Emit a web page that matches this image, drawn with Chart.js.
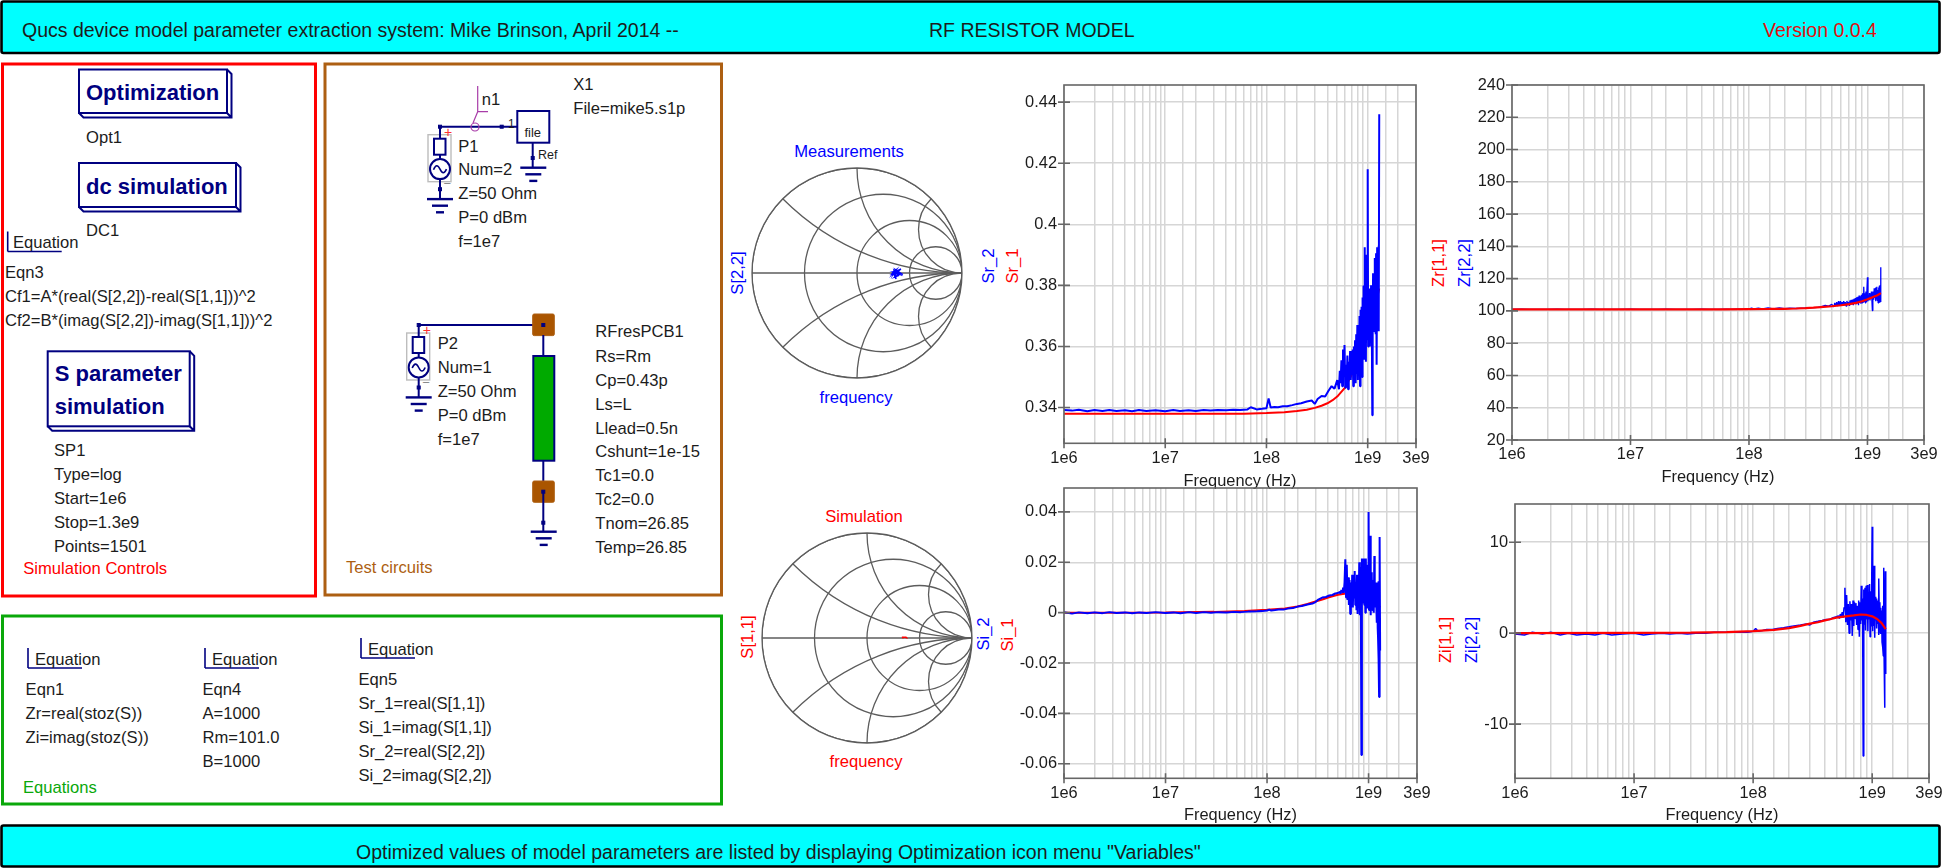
<!DOCTYPE html>
<html>
<head>
<meta charset="utf-8">
<title>RF resistor model</title>
<script src="https://cdn.jsdelivr.net/npm/chart.js@4"></script>
<style>
  html, body { margin: 0; padding: 0; width: 1942px; height: 868px; overflow: hidden; background: #fff; }
  svg { position: absolute; left: 0; top: 0; }
  canvas { position: absolute; }
  text { font-family: "Liberation Sans", Arial, sans-serif; font-size: 16.6px; dominant-baseline: central; fill: #1c1c1c; }
</style>
</head>
<body>
<svg id="sheet" width="1942" height="868"></svg>
<script>
// Measured sweep, frequency in MHz
const freqMHz = [
  1,1.2,1.4,1.7,2,2.4,2.8,3.3,4,4.7,5.5,6.5,8,10,12,14,17,20,24,28,33,40,47,55,65,70,80,90,100,105,
  110,120,130,145,160,180,200,220,250,280,300,320,350,380,410,440,470,500,
  520,530,540,550,560,570,580,590,600,610,
  620,630,640,650,660,670,680,690,700,710,
  720,730,740,750,760,770,780,790,800,810,
  820,830,840,850,860,870,880,890,900,910,
  920,930,940,950,960,970,980,990,1000,1010,
  1020,1030,1040,1050,1060,1070,1080,1090,1100,1110,
  1120,1130,1140,1150,1160,1170,1180,1190,1200,1210,
  1220,1230,1240,1250,1260,1270,1280,1290,1300
];

// Simulated sweep, frequency in MHz
const freqSimMHz = [1,10,30,60,100,150,200,250,300,350,400,450,500,600,700,800,900,1000,1100,1200,1300];

// Measurements
const sr2 = [
  .3392,.3390,.3393,.3388,.3392,.3389,.3392,.3389,.3391,.3388,.3392,.3389,.3391,.3388,.3392,.3389,.3391,.3389,.3392,.3390,.3392,.3391,.3393,.3392,.3394,.3401,.3394,.3396,.3398,.3430,
  .3400,.3402,.3401,.3404,.3404,.3408,.3412,.3414,.3420,.3423,.3412,.3428,.3438,.3436,.3455,.3470,.3462,.3490,
  .3460,.3520,.3480,.3555,.3470,.3590,.3500,.3605,.3465,.3540,
  .3480,.3570,.3460,.3550,.3500,.3585,.3490,.3560,.3510,.3590,
  .3470,.3600,.3500,.3620,.3480,.3640,.3510,.3670,.3490,.3660,
  .3520,.3700,.3470,.3720,.3540,.3730,.3500,.3760,.3580,.3800,
  .3560,.3925,.3600,.3800,.3550,.3900,.3620,.3780,.4180,.3600,
  .3720,.3650,.3790,.3600,.3750,.3680,.3800,.3630,.3740,.3375,
  .3660,.3840,.3680,.3810,.3650,.3890,.3700,.3850,.3640,.3905,
  .3680,.3540,.3925,.3660,.3900,.3700,.3930,.3650,.4360
];
const si2 = [
  .0002,-.0004,.0001,-.0002,.0001,-.0002,.0002,-.0001,.0001,-.0002,.0001,-.0001,.0002,-.0001,.0001,-.0002,.0002,-.0001,.0002,0,.0002,.0001,.0003,.0002,.0004,.0004,.0005,.0006,.0008,.0012,
  .0008,.0010,.0012,.0012,.0016,.0018,.0024,.0026,.0032,.0036,.0042,.0052,.0060,.0062,.0068,.0070,.0076,.0078,
  .0082,.0075,.0090,.0082,.0100,.0078,.0120,.0212,.0060,.0190,
  .0050,.0140,.0030,.0130,-.0005,.0120,.0040,.0150,.0020,.0135,
  .0060,.0165,.0030,.0120,.0010,.0150,-.0005,.0130,.0050,.0200,
  -.0010,.0180,.0010,-.0565,.0215,.0040,.0200,.0060,.0215,.0030,
  .0195,.0000,.0215,.0050,.0190,.0020,.0175,.0060,.0400,.0010,
  .0180,.0040,.0305,-.0010,.0160,.0060,.0145,.0010,.0130,.0030,
  .0110,.0000,.0225,.0050,.0120,.0020,.0095,.0040,.0060,-.0040,
  .0120,-.0060,-.0100,.0125,-.0180,-.0335,-.0250,.0300,-.0150
];
const zr2 = [
  101,101.1,101,100.9,101,101.1,101,100.9,101,101.1,101,100.9,101,101.1,101,100.9,101,101.1,101,100.9,101,101.1,101,101,101.1,101,101.1,101,101.1,101.8,
  101.2,101.7,101.3,101.8,101.3,101.8,101.4,101.7,101.5,101.7,101.8,102.0,102.0,102.2,102.6,103.5,103.0,104.0,
  102.5,105.0,103.0,105.5,103.0,106.0,103.2,106.0,103.5,105.5,
  103.2,106.0,103.5,105.5,103.0,106.2,103.8,105.5,103.5,106.5,
  103.8,106.8,104.0,107.0,103.5,107.5,104.5,108.0,104.0,108.5,
  105.0,108.8,103.5,109.5,105.5,109.0,104.5,110.0,105.0,111.0,
  105.5,115.0,106.0,111.0,105.0,112.0,106.0,113.0,120.8,106.0,
  109.5,107.0,111.0,106.5,110.5,108.0,112.0,107.0,100.2,108.0,
  112.0,107.0,114.0,108.0,113.5,106.0,114.5,107.5,115.0,106.5,
  113.0,105.0,114.5,106.0,115.5,105.0,116.0,105.5,127.0
];
const zi2 = [
  -0.1,-0.2,0.1,-0.1,0.1,-0.2,0.0,-0.2,-0.1,-0.2,0.0,-0.2,-0.1,0.0,-0.2,-0.1,0.0,-0.1,0.0,-0.1,0.0,0.0,0.1,0.1,0.1,0.1,0.1,0.1,0.2,0.5,
  0.2,0.3,0.4,0.4,0.5,0.6,0.7,0.8,0.9,1.0,0.9,1.2,1.3,1.4,1.5,1.5,1.7,1.8,
  1.9,1.6,2.1,1.8,2.3,1.7,2.8,5.0,1.2,4.2,
  0.9,3.2,0.0,3.5,1.4,3.2,-0.3,3.6,0.8,3.4,
  1.6,3.3,0.9,3.0,0.4,3.6,-0.4,3.4,1.0,5.2,
  1.4,3.8,-13.5,4.8,1.0,5.0,0.3,5.2,1.5,5.3,
  0.2,4.5,1.5,5.4,-0.4,4.6,0.8,5.3,11.7,0.2,
  4.2,0.8,7.4,-0.5,4.0,1.4,3.8,0.5,3.5,1.0,
  3.6,-0.2,6.0,0.8,3.4,0.0,2.8,1.0,2.5,-1.0,
  3.0,-1.5,-2.5,7.2,-3.0,-8.2,-4.5,6.8,-4.5
];

// Simulation
const sr1 = [.3380,.3380,.3380,.3380,.3382,.3385,.3389,.3393,.3399,.3406,.3414,.3424,.3436,.3466,.3510,.3560,.3610,.3650,.3690,.3740,.3790];
const si1 = [.0000,.0001,.0003,.0006,.0011,.0016,.0024,.0034,.0044,.0052,.0060,.0066,.0071,.0076,.0077,.0076,.0073,.0067,.0058,.0044,.0020];
const zr1 = [101,101,101,101,101.1,101.2,101.3,101.5,101.7,102,102.3,102.6,102.9,103.5,104.2,105,106,107.2,108.4,109.6,111];
const zi1 = [0,0.02,0.05,0.12,0.22,0.35,0.55,0.8,1.05,1.2,1.4,1.55,1.7,1.85,1.95,2.05,2.0,1.85,1.55,1.1,0.45];

// Axis ticks
const xTickValues = [1e6, 1e7, 1e8, 1e9, 3e9];
const xTickLabels = ['1e6', '1e7', '1e8', '1e9', '3e9'];
const srTicks = [.34, .36, .38, .4, .42, .44];
const srLabels = ['0.34', '0.36', '0.38', '0.4', '0.42', '0.44'];
const zrTicks = [20, 40, 60, 80, 100, 120, 140, 160, 180, 200, 220, 240];
const zrLabels = zrTicks.map(String);
const siTicks = [-.06, -.04, -.02, 0, .02, .04];
const siLabels = ['-0.06', '-0.04', '-0.02', '0', '0.02', '0.04'];
const ziTicks = [-10, 0, 10];
const ziLabels = ['-10', '0', '10'];

// Smith grid: constant resistance circles and constant reactance arcs
const smithR = [0, 1 / 3, 1, 3];
const smithX = [0.4142, 1, 2.4142];

const FONT = '"Liberation Sans", Arial, sans-serif';
const TEXT = '#1c1c1c', BLUE = '#0000ff', RED = '#ff0000';
const NAVY = '#000080', BROWN = '#ad5f12', GREEN = '#0aa80a', PURPLE = '#a83ca8';

function toXY(freqs, values) {
    return freqs.map((f, i) => ({ x: f * 1e6, y: values[i] }));
}

// ---- sheet: panels, schematic symbols and text ----
let svg = '';

function line(x1, y1, x2, y2, color, w) {
    svg += `<line x1="${x1}" y1="${y1}" x2="${x2}" y2="${y2}" stroke="${color || NAVY}" stroke-width="${w || 2}"/>`;
}
function box(x, y, w, h, stroke, sw, fill, rx) {
    svg += `<rect x="${x}" y="${y}" width="${w}" height="${h}" fill="${fill || 'none'}" stroke="${stroke}" stroke-width="${sw}" rx="${rx || 0}"/>`;
}
function label(str, x, y, color, extra, size) {
    const safe = str.replace(/&/g, '&amp;').replace(/</g, '&lt;');
    const style = (color ? `fill:${color};` : '') + (size ? `font-size:${size}px;` : '');
    svg += `<text x="${x}" y="${y}" style="${style}" ${extra || ''}>${safe}</text>`;
}
function rotated(str, x, y, color) {
    label(str, x, y, color, `text-anchor="middle" transform="rotate(-90 ${x} ${y})"`);
}
function centered(str, x, y, color) {
    label(str, x, y, color, 'text-anchor="middle"');
}
function node(x, y) {
    box(x - 1.5, y - 1.5, 3, 3, NAVY, 1, NAVY);
}
function ground(x, y) {
    line(x - 13, y, x + 13, y, NAVY, 2.4);
    line(x - 8, y + 6.6, x + 8, y + 6.6, NAVY, 2.4);
    line(x - 4, y + 13.2, x + 4, y + 13.2, NAVY, 2.4);
}
function bigBox(x, y, w, h, lines) {
    const d = 4.5;
    box(x, y, w, h, NAVY, 2, '#fff');
    svg += `<path d="M${x} ${y + h} L${x + d} ${y + h + d} H${x + w + d} V${y + d} L${x + w} ${y} M${x + w} ${y + h} L${x + w + d} ${y + h + d}" fill="none" stroke="${NAVY}" stroke-width="2"/>`;
    lines.forEach(l => label(l[0], x + 7, l[1], NAVY, 'font-weight="bold"', 22));
}
function equationMark(x, y, w, h, tx) {
    line(x, y, x, y + h, NAVY, 1.6);
    line(x, y + h, x + w, y + h, NAVY, 1.6);
    label('Equation', tx, y + h * 0.55);
}
function powerPort(x, topY) {
    // power source with its series resistor and grey surround
    box(x - 12, topY + 8, 23, 47, '#bdbdbd', 1.4);
    line(x, topY, x, topY + 12);
    box(x - 6, topY + 12, 11.5, 16, NAVY, 2, '#fff');
    line(x, topY + 28, x, topY + 32);
    svg += `<circle cx="${x}" cy="${topY + 42.4}" r="10" fill="#fff" stroke="${NAVY}" stroke-width="2"/>`;
    svg += `<path d="M${x - 6.5} ${topY + 43} q3.2 -7.5 6.5 -0.5 t6.5 0" fill="none" stroke="${NAVY}" stroke-width="1.6"/>`;
    line(x, topY + 52.4, x, topY + 72);
    node(x, topY + 62.5);
    ground(x, topY + 72.4);
    label('+', x + 4, topY + 5, '#ff3030', '', 14);
    label('−', x + 3.5, topY + 57, '#8a8a8a', '', 13);
}

// banners
box(1.5, 1.5, 1938, 51.5, '#000', 2.6, '#00ffff', 2);
box(1.5, 825.5, 1938, 41, '#000', 2.6, '#00ffff', 2);
label('Qucs device model parameter extraction system: Mike Brinson, April 2014 --', 22, 30, null, '', 19.5);
label('RF RESISTOR MODEL', 929, 30, null, '', 19.5);
label('Version 0.0.4', 1763, 30, '#e01010', '', 19.5);
label('Optimized values of model parameters are listed by displaying Optimization icon menu "Variables"', 356, 852, null, '', 19.5);

// panels
box(2.5, 64, 313, 532, RED, 3);
box(325, 64, 396.5, 531, BROWN, 3);
box(2.5, 616, 719, 188, GREEN, 3);

// simulation controls
bigBox(79, 69.5, 148, 43.5, [['Optimization', 92]]);
label('Opt1', 86, 137);
bigBox(79, 163, 157, 44, [['dc simulation', 186]]);
label('DC1', 86, 230.8);
equationMark(7.7, 231.5, 54, 20, 13);
label('Eqn3', 5, 272.3);
label('Cf1=A*(real(S[2,2])-real(S[1,1]))^2', 5, 296.5);
label('Cf2=B*(imag(S[2,2])-imag(S[1,1]))^2', 5, 320.4);
bigBox(47.7, 351.3, 142, 75, [['S parameter', 373.7], ['simulation', 406]]);
label('SP1', 54, 450.3);
label('Type=log', 54, 474.9);
label('Start=1e6', 54, 498.4);
label('Stop=1.3e9', 54, 522.6);
label('Points=1501', 54, 546.5);
label('Simulation Controls', 23.3, 568.3, RED);

// test circuits, measured branch
line(440, 126.7, 517, 126.7);
node(440, 126.7);
node(501.7, 126.7);
powerPort(440, 126.7);
box(517.3, 111, 32, 31.7, NAVY, 2, '#fff');
label('file', 532.7, 132.7, null, 'text-anchor="middle"', 13);
label('1', 508, 124, null, '', 12);
label('Ref', 538, 155, null, '', 12.5);
line(532.7, 142.7, 532.7, 167.7);
node(532.7, 158);
ground(533.3, 167.7);
// node label n1 hooks onto the wire
svg += `<path d="M477.7 86 V111.7 H488 M477.7 111.7 L473 123" fill="none" stroke="${PURPLE}" stroke-width="1.2"/>`;
svg += `<circle cx="475" cy="127" r="4" fill="none" stroke="${PURPLE}" stroke-width="1.2"/>`;
label('n1', 481.7, 99);
label('X1', 573.3, 84);
label('File=mike5.s1p', 573.3, 108);
['P1', 'Num=2', 'Z=50 Ohm', 'P=0 dBm', 'f=1e7'].forEach((t, i) => label(t, 458.3, [146, 169, 193.3, 217, 241.7][i]));

// test circuits, simulated branch
line(418.7, 325, 543.3, 325);
box(532.7, 314, 21.6, 21.6, BROWN, 1, '#aa5500', 1.5);
node(418.7, 325);
node(543.3, 325);
powerPort(418.7, 325);
line(543.3, 335, 543.3, 356);
box(533.3, 356, 21, 104.7, NAVY, 2, '#00aa00');
line(543.3, 460.7, 543.3, 481);
box(532.7, 481, 21.6, 21.3, BROWN, 1, '#aa5500', 1.5);
line(543.3, 491.7, 543.3, 531.7);
node(543.3, 491.7);
node(543.3, 522.7);
ground(543.7, 531.7);
['P2', 'Num=1', 'Z=50 Ohm', 'P=0 dBm', 'f=1e7'].forEach((t, i) => label(t, 437.7, [343.3, 367.3, 391.3, 415.3, 439.3][i]));
['RFresPCB1', 'Rs=Rm', 'Cp=0.43p', 'Ls=L', 'Llead=0.5n', 'Cshunt=1e-15', 'Tc1=0.0', 'Tc2=0.0', 'Tnom=26.85', 'Temp=26.85']
    .forEach((t, i) => label(t, 595.3, [331.7, 356, 380, 404, 428, 451.7, 475.7, 499.3, 523.3, 547.3][i]));
label('Test circuits', 346, 567.7, BROWN);

// equations
equationMark(28, 648, 54, 20, 35);
['Eqn1', 'Zr=real(stoz(S))', 'Zi=imag(stoz(S))'].forEach((t, i) => label(t, 25.6, 689 + 24 * i));
label('Equations', 23, 787, GREEN);
equationMark(205, 648, 54, 20, 212);
['Eqn4', 'A=1000', 'Rm=101.0', 'B=1000'].forEach((t, i) => label(t, 202.5, 689 + 24 * i));
equationMark(361, 638, 54, 20, 368);
['Eqn5', 'Sr_1=real(S[1,1])', 'Si_1=imag(S[1,1])', 'Sr_2=real(S[2,2])', 'Si_2=imag(S[2,2])']
    .forEach((t, i) => label(t, 358.5, 679 + 24 * i));

// graph captions
rotated('Sr_2', 988, 266, BLUE);
rotated('Sr_1', 1012, 266, RED);
rotated('Zr[1,1]', 1438, 263, RED);
rotated('Zr[2,2]', 1464, 263, BLUE);
rotated('Si_2', 983, 634, BLUE);
rotated('Si_1', 1007, 635, RED);
rotated('Zi[1,1]', 1445, 640, RED);
rotated('Zi[2,2]', 1471.7, 640, BLUE);
rotated('S[2,2]', 737, 273, BLUE);
rotated('S[1,1]', 747, 637, RED);
centered('Measurements', 849, 151.7, BLUE);
centered('frequency', 856, 397, BLUE);
centered('Simulation', 864, 516, RED);
centered('frequency', 866, 761.7, RED);

document.getElementById('sheet').innerHTML = svg;

// ---- charts ----
Chart.defaults.animation = false;
Chart.defaults.responsive = false;
Chart.defaults.font.family = FONT;
Chart.defaults.font.size = 16.4;
Chart.defaults.color = TEXT;
Chart.defaults.plugins.legend.display = false;
Chart.defaults.plugins.tooltip.enabled = false;

// frame with tick marks straddling it
const frameTicks = {
    id: 'frameTicks',
    afterDraw(chart) {
        const { ctx, chartArea: a, scales } = chart;
        ctx.save();
        ctx.strokeStyle = '#666';
        ctx.lineWidth = 1.6;
        ctx.strokeRect(a.left, a.top, a.right - a.left, a.bottom - a.top);
        ctx.beginPath();
        scales.y.ticks.forEach(t => {
            const y = scales.y.getPixelForValue(t.value);
            ctx.moveTo(a.left - 6, y);
            ctx.lineTo(a.left + 6, y);
        });
        xTickValues.forEach(v => {
            const x = scales.x.getPixelForValue(v);
            ctx.moveTo(x, a.bottom - 5);
            ctx.lineTo(x, a.bottom + 5);
        });
        ctx.stroke();
        ctx.restore();
    }
};

function newCanvas(left, top, w, h) {
    const c = document.createElement('canvas');
    c.width = w;
    c.height = h;
    c.style.left = left + 'px';
    c.style.top = top + 'px';
    document.body.appendChild(c);
    return c.getContext('2d');
}

// Chart.js reserves half a label plus the tick padding around the axes,
// so the canvas gets 20px above and 30px right of the plot area
function freqChart(o) {
    const axisW = 72, padTop = 20, padRight = 30;
    const below = o.titleY - o.bottom + 10;
    const ctx = newCanvas(o.left - axisW, o.top - padTop, o.right - o.left + axisW + padRight, o.bottom - o.top + padTop + below);
    return new Chart(ctx, {
        type: 'line',
        data: { datasets: o.datasets },
        plugins: [frameTicks],
        options: {
            layout: { autoPadding: false, padding: { left: 0, top: padTop, right: padRight, bottom: 0 } },
            elements: { point: { radius: 0 }, line: { tension: 0, borderJoinStyle: 'bevel' } },
            scales: {
                x: {
                    type: 'logarithmic',
                    min: 1e6,
                    max: 3e9,
                    afterFit: s => { s.height = below; },
                    grid: { color: '#d6d6d6', lineWidth: 1.5, drawTicks: false },
                    border: { display: false },
                    title: { display: true, text: 'Frequency (Hz)', color: TEXT, padding: 0 },
                    ticks: {
                        autoSkip: false,
                        maxRotation: 0,
                        padding: 5,
                        color: TEXT,
                        callback: v => {
                            const i = xTickValues.findIndex(t => Math.abs(Math.log10(t / v)) < 1e-6);
                            return i < 0 ? '' : xTickLabels[i];
                        }
                    }
                },
                y: {
                    min: o.yMin,
                    max: o.yMax,
                    afterFit: s => { s.width = axisW; },
                    afterBuildTicks: s => { s.ticks = o.ticks.map(v => ({ value: v })); },
                    grid: { color: '#d6d6d6', lineWidth: 1.5, drawTicks: false },
                    border: { display: false },
                    ticks: { padding: 7, color: TEXT, autoSkip: false, callback: (v, i) => o.labels[i] }
                }
            }
        }
    });
}

const measured = (values, w) => ({ data: toXY(freqMHz, values), borderColor: BLUE, borderWidth: w });
const simulated = (values, w) => ({ data: toXY(freqSimMHz, values), borderColor: RED, borderWidth: w });

// the first dataset ends up on top
freqChart({
    left: 1064, top: 85, right: 1416, bottom: 444, titleY: 481.7,
    yMin: .3283, yMax: .4456, ticks: srTicks, labels: srLabels,
    datasets: [measured(sr2, 2), simulated(sr1, 2)]
});
freqChart({
    left: 1512, top: 85, right: 1924, bottom: 440, titleY: 477,
    yMin: 20, yMax: 240, ticks: zrTicks, labels: zrLabels,
    datasets: [simulated(zr1, 2.2), measured(zr2, 1.3)]
});
freqChart({
    left: 1064, top: 488, right: 1417, bottom: 779, titleY: 815.7,
    yMin: -.0658, yMax: .0495, ticks: siTicks, labels: siLabels,
    datasets: [measured(si2, 2), simulated(si1, 2)]
});
freqChart({
    left: 1515, top: 504, right: 1929, bottom: 779, titleY: 815.7,
    yMin: -15.96, yMax: 14.2, ticks: ziTicks, labels: ziLabels,
    datasets: [simulated(zi1, 2.2), measured(zi2, 1.5)]
});

// unit circle grid, drawn in data coordinates
const smithGrid = {
    id: 'smithGrid',
    beforeDatasetsDraw(chart) {
        const { ctx, scales: { x, y } } = chart;
        const px = v => x.getPixelForValue(v);
        const py = v => y.getPixelForValue(v);
        const unit = px(1) - px(0);
        ctx.save();
        ctx.strokeStyle = '#5c5c5c';
        ctx.lineWidth = 1.3;
        ctx.beginPath();
        ctx.arc(px(0), py(0), unit, 0, Math.PI * 2);
        ctx.stroke();
        ctx.clip();
        smithR.forEach(r => {
            ctx.beginPath();
            ctx.arc(px(r / (1 + r)), py(0), unit / (1 + r), 0, Math.PI * 2);
            ctx.stroke();
        });
        smithX.forEach(v => {
            [1, -1].forEach(side => {
                ctx.beginPath();
                ctx.arc(px(1), py(side / v), unit / v, 0, Math.PI * 2);
                ctx.stroke();
            });
        });
        ctx.beginPath();
        ctx.moveTo(px(-1), py(0));
        ctx.lineTo(px(1), py(0));
        ctx.stroke();
        ctx.restore();
    }
};

function smithChart(cx, cy, radius, re, im, color) {
    const pad = 4;
    const ctx = newCanvas(cx - radius - pad, cy - radius - pad, 2 * (radius + pad), 2 * (radius + pad));
    return new Chart(ctx, {
        type: 'scatter',
        data: { datasets: [{ data: re.map((v, i) => ({ x: v, y: im[i] })), showLine: true, borderColor: color, borderWidth: 1.6, pointRadius: 0 }] },
        plugins: [smithGrid],
        options: {
            layout: { autoPadding: false, padding: pad },
            scales: {
                x: { display: false, min: -1, max: 1 },
                y: { display: false, min: -1, max: 1 }
            }
        }
    });
}

smithChart(857, 273, 105, sr2, si2, BLUE);
smithChart(867, 638, 105, sr1, si1, RED);
</script>
</body>
</html>
